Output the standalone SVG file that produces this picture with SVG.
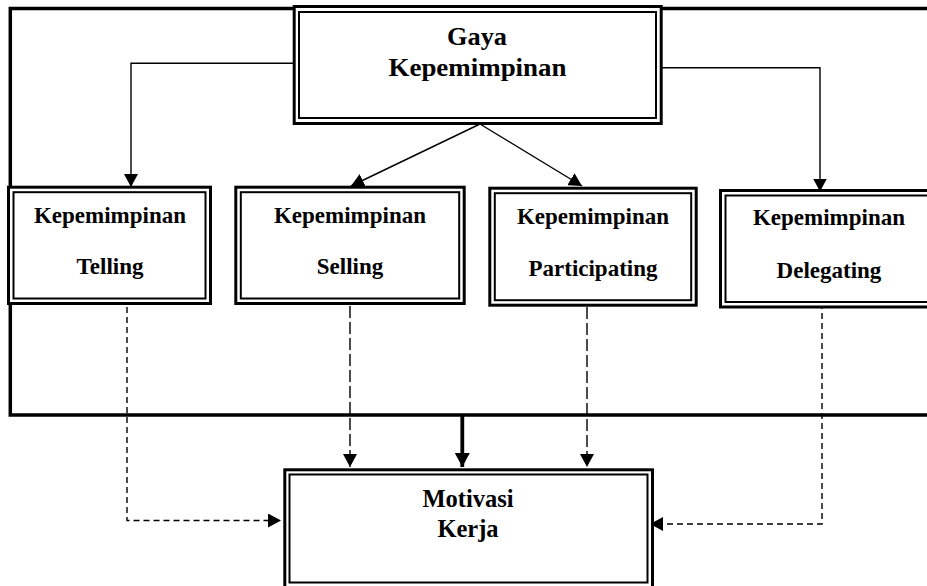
<svg xmlns="http://www.w3.org/2000/svg" width="927" height="586" viewBox="0 0 927 586">
<style>
.o{fill:#fff;stroke:#000;stroke-width:3}
.i{fill:none;stroke:#000;stroke-width:2}
.t{font-family:"Liberation Serif","Times New Roman",serif;font-weight:bold;fill:#000;text-anchor:middle}
.s{font-size:23px}
.c{fill:none;stroke:#000;stroke-width:1.4}
.d{fill:none;stroke:#000;stroke-width:1.4}
</style>
<defs>
<marker id="ah" markerUnits="userSpaceOnUse" markerWidth="14" markerHeight="14" refX="13" refY="7" orient="auto">
<path d="M0,0 L13,7 L0,14 z" fill="#000"/>
</marker>
<marker id="ahb" markerUnits="userSpaceOnUse" markerWidth="15" markerHeight="16" refX="14" refY="7.5" orient="auto">
<path d="M0,0 L14,7.5 L0,15 z" fill="#000"/>
</marker>
</defs>
<g id="frame">
<path d="M940,8.5 H10.3 V415 H940" fill="none" stroke="#000" stroke-width="3.5"/>
</g>
<g id="connectors">
<path class="c" d="M296,63.3 H131 V187" marker-end="url(#ah)"/>
<path class="c" d="M655,67.7 H820 V191.5" marker-end="url(#ah)"/>
<path class="c" d="M480,124 L351,186" marker-end="url(#ah)"/>
<path class="c" d="M480,124 L582,186" marker-end="url(#ah)"/>
<path class="d" d="M127,307 V520.5 H281" stroke-dasharray="6 4" marker-end="url(#ah)"/>
<path class="d" d="M350,306 V467" stroke-dasharray="12 4" marker-end="url(#ah)"/>
<path class="d" d="M587,307 V467" stroke-dasharray="12 4" marker-end="url(#ah)"/>
<path class="d" d="M822,303 V524 H650" stroke-dasharray="6 4" marker-end="url(#ah)"/>
<path d="M462.3,416 V467" fill="none" stroke="#000" stroke-width="3.8" marker-end="url(#ahb)"/>
</g>
<g id="gaya">
<rect class="o" x="294.2" y="6.5" width="367" height="117"/>
<rect class="i" x="299" y="12" width="357" height="106"/>
<text class="t" x="477" y="45" font-size="25" textLength="60" lengthAdjust="spacingAndGlyphs">Gaya</text>
<text class="t" x="477.5" y="76" font-size="25" textLength="178" lengthAdjust="spacingAndGlyphs">Kepemimpinan</text>
</g>
<g id="telling">
<rect class="o" x="8.5" y="187.2" width="202" height="116.3"/>
<rect class="i" x="13.5" y="192.2" width="192" height="106.3"/>
<text class="t s" x="110" y="222.7">Kepemimpinan</text>
<text class="t s" x="110" y="274">Telling</text>
</g>
<g id="selling">
<rect class="o" x="235.8" y="187.2" width="228.4" height="116.3"/>
<rect class="i" x="240.8" y="192.2" width="218.4" height="106.3"/>
<text class="t s" x="350" y="222.7">Kepemimpinan</text>
<text class="t s" x="350" y="274">Selling</text>
</g>
<g id="participating">
<rect class="o" x="489.8" y="188.2" width="206.4" height="117"/>
<rect class="i" x="494.8" y="193.2" width="196.4" height="107"/>
<text class="t s" x="593" y="224">Kepemimpinan</text>
<text class="t s" x="593" y="276">Participating</text>
</g>
<g id="delegating">
<rect class="o" x="720.5" y="190.5" width="220" height="116.5"/>
<rect class="i" x="725.5" y="195.5" width="210" height="106.5"/>
<text class="t s" x="829" y="225">Kepemimpinan</text>
<text class="t s" x="829" y="278">Delegating</text>
</g>
<g id="motivasi">
<rect class="o" x="284.8" y="469.8" width="367.7" height="118"/>
<rect class="i" x="289.5" y="474.5" width="358" height="108"/>
<text class="t" x="468" y="506.7" font-size="24.5">Motivasi</text>
<text class="t" x="468" y="536.7" font-size="24.5">Kerja</text>
</g>
</svg>
